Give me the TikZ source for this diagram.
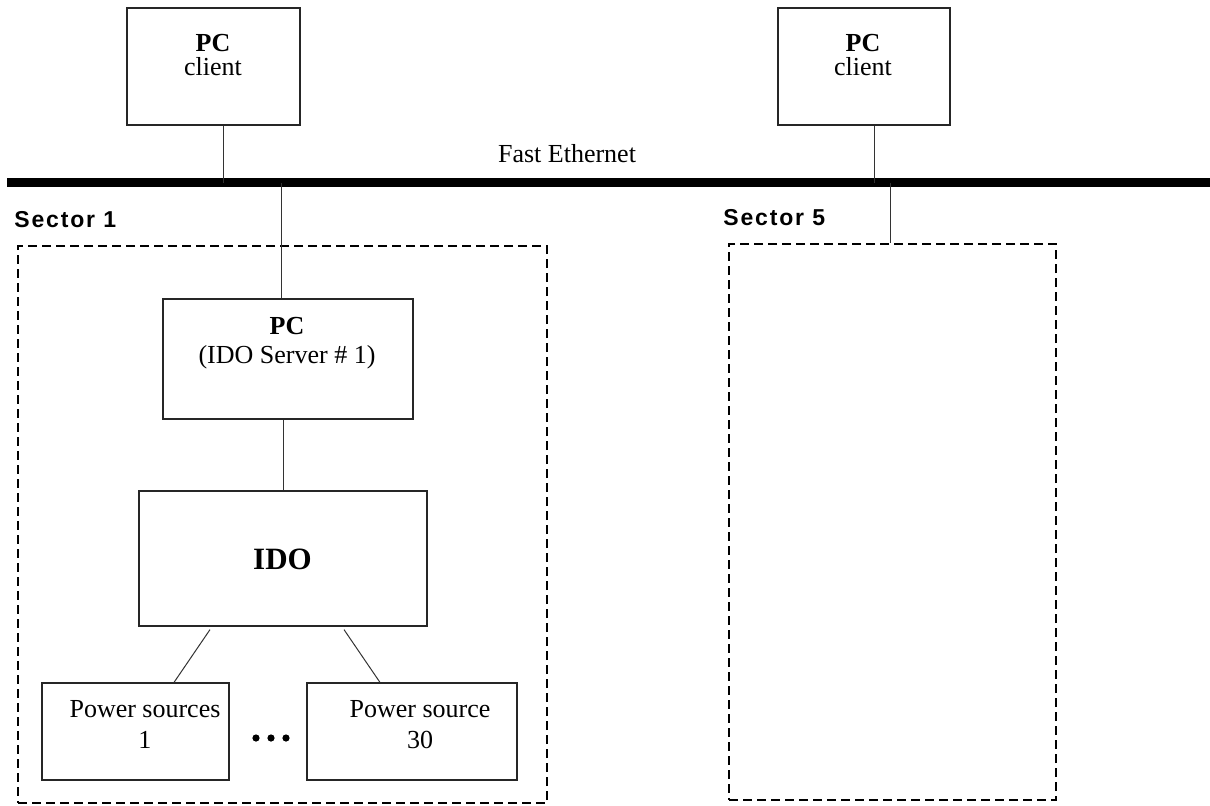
\documentclass[tikz,border=0pt]{standalone}
\usepackage{fontspec}
\setmainfont{Liberation Serif}
\newfontfamily\sectorfont[LetterSpace=8]{Liberation Sans}
\usetikzlibrary{calc,positioning}

\tikzset{
  box/.style={draw=black!85, line width=0.6pt, inner sep=0pt},
  sector/.style={draw, line width=1.25pt, dash pattern=on 4.5pt off 2.5pt, inner sep=0pt},
  txt/.style={align=center, font=\fontsize{13}{13.5}\selectfont, inner sep=0pt},
  seclabel/.style={anchor=base west, inner sep=0pt, font=\sectorfont\bfseries\fontsize{11.5}{12}\selectfont},
  conn/.style={draw=black!80, line width=0.5pt}
}

\begin{document}
\begin{tikzpicture}[x=0.5pt,y=-0.5pt]
\useasboundingbox (0,0) rectangle (1210,805);

% ethernet bus
\coordinate (busL) at (7,182.5);
\coordinate (busR) at (1210,182.5);
\draw[line width=4.5pt] (busL) -- (busR);
\node[txt, anchor=base] (eth) at (567,162) {Fast Ethernet};

% clients
\node[box, minimum width=86.5pt, minimum height=58.5pt] (pc1) at (213.5,66.5) {};
\node[txt, anchor=base] (pc1t) at (213,75) {\textbf{PC}\\[-1.5pt]client};
\node[box, minimum width=86pt, minimum height=58.5pt] (pc2) at (864,66.5) {};
\node[txt, anchor=base] (pc2t) at (863,75) {\textbf{PC}\\[-1.5pt]client};

% sectors
\node[seclabel] (s1) at (14,227) {Sector 1};
\node[seclabel] (s5) at (723,225) {Sector 5};
\node[sector, minimum width=264.5pt, minimum height=278.5pt] (sec1) at (282.5,524.5) {};
\node[sector, minimum width=163.5pt, minimum height=278pt] (sec5) at (892.5,522) {};

% sector 1 contents
\node[box, minimum width=125pt, minimum height=60pt] (srv) at (288,359) {};
\node[txt, anchor=base] (srvt) at (287,363) {\textbf{PC}\\[1pt](IDO Server \# 1)};

\node[box, minimum width=144pt, minimum height=67.5pt] (ido) at (283,558.5) {};
\node[txt, anchor=base, font=\fontsize{15.5}{16}\selectfont\bfseries] (idot) at (282.5,569) {IDO};

\node[box, minimum width=93.5pt, minimum height=48.5pt] (ps1) at (135.5,731.5) {};
\node[txt, anchor=base] (ps1t) at (145,748) {Power sources\\[2pt]1};
\node[box, minimum width=105pt, minimum height=48.5pt] (ps30) at (412,731.5) {};
\node[txt, anchor=base] (ps30t) at (420,748) {Power source\\[2pt]30};

\foreach \i in {0,1,2}
  \node[circle, fill, inner sep=0pt, minimum size=3.6pt] (dot\i) at (256+15*\i,738) {};

% connections
\draw[conn] ([xshift=4.75pt]pc1.south) -- ([xshift=4.75pt]pc1.south |- busL);
\draw[conn] ([xshift=5pt]pc2.south) -- ([xshift=5pt]pc2.south |- busL);
\draw[conn] ([xshift=-3.5pt]srv.north |- busL) -- ([xshift=-3.5pt]srv.north);
\draw[conn] ([xshift=-1.25pt]sec5.north |- busL) -- ([xshift=-1.25pt]sec5.north);
\draw[conn] (ido.north |- srv.south) -- (ido.north);
\draw[conn] ([xshift=-36.5pt,yshift=-1.5pt]ido.south) -- ([xshift=19.25pt]ps1.north);
\draw[conn] ([xshift=30.5pt,yshift=-1.5pt]ido.south) -- ([xshift=-16pt]ps30.north);

\end{tikzpicture}
\end{document}
